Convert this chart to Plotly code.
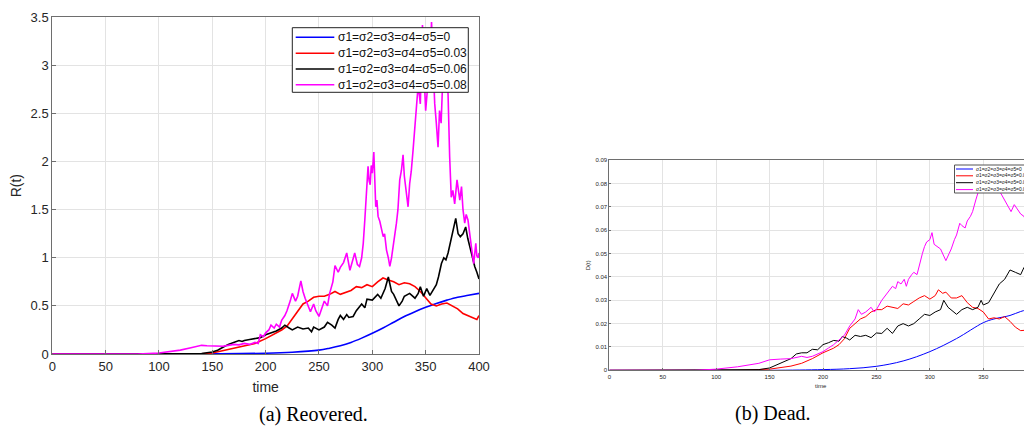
import plotly.graph_objects as go

# ---------------- (a) Recovered R(t) ----------------
a_blue_t = [0, 100, 150, 200, 225, 250, 260, 270, 280, 290, 300, 310, 320, 330, 340, 350, 360, 370, 380, 390, 400]
a_blue_v = [0, 0, 0.002, 0.008, 0.018, 0.04, 0.06, 0.085, 0.12, 0.165, 0.215, 0.27, 0.33, 0.39, 0.44, 0.485, 0.525, 0.56, 0.59, 0.61, 0.63]

a_red_t = [0, 100, 140, 150, 160, 170, 180, 190, 200, 205, 210, 215, 220, 225, 230, 235, 240, 245, 250, 255, 260, 265, 270, 275,
           280, 285, 290, 295, 300, 305, 310, 315, 320, 325, 330, 335, 340, 345, 350, 355, 360, 365, 370, 375, 380, 385, 390, 395, 398, 400]
a_red_v = [0, 0, 0.003, 0.01, 0.035, 0.065, 0.085, 0.11, 0.16, 0.19, 0.22, 0.25, 0.29, 0.37, 0.45, 0.52, 0.55, 0.59, 0.6, 0.6, 0.62, 0.65, 0.62, 0.64,
           0.66, 0.7, 0.69, 0.72, 0.7, 0.75, 0.79, 0.77, 0.75, 0.72, 0.74, 0.73, 0.7, 0.65, 0.58, 0.52, 0.5, 0.52, 0.53, 0.5, 0.47, 0.42, 0.4, 0.38, 0.36, 0.4]

a_black_t = [0, 130, 140, 150, 155, 160, 165, 170, 175, 178, 180, 185, 190, 195, 200, 205, 210, 215, 218, 222, 225, 230, 235, 240, 243, 245,
             250, 255, 258, 262, 265, 268, 270, 273, 276, 278, 282, 285, 290, 293, 295, 300, 303, 305, 308, 312, 315, 318, 320, 323, 325, 328,
             330, 335, 338, 340, 343, 345, 348, 351, 354, 357, 360, 362, 364.8, 367, 369, 371, 373, 375.7, 378.2, 380.4, 382.5, 385, 387.5,
             389.5, 391.3, 393.5, 396, 398, 400]
a_black_v = [0, 0, 0.005, 0.02, 0.04, 0.07, 0.1, 0.12, 0.14, 0.13, 0.14, 0.15, 0.16, 0.17, 0.2, 0.22, 0.24, 0.27, 0.3, 0.27, 0.25, 0.28, 0.26, 0.27, 0.23, 0.28,
             0.25, 0.28, 0.33, 0.3, 0.27, 0.36, 0.4, 0.36, 0.41, 0.38, 0.39, 0.45, 0.52, 0.48, 0.57, 0.56, 0.6, 0.62, 0.58, 0.68, 0.8, 0.65, 0.62, 0.55, 0.5, 0.55,
             0.6, 0.63, 0.6, 0.58, 0.63, 0.7, 0.6, 0.68, 0.61, 0.66, 0.72, 0.8, 0.94, 1.0, 0.98, 1.05, 1.15, 1.25, 1.41, 1.25, 1.22, 1.25, 1.32,
             1.2, 1.11, 1.0, 0.91, 0.85, 0.78]

a_mag_t = [0, 80, 100, 110, 120, 130, 135, 140, 145, 150, 155, 160, 165, 170, 175, 180, 185, 190, 193, 195, 198, 200, 203, 205, 208, 210,
           213, 215, 218, 220, 223, 225, 228, 230, 233, 235, 237, 240, 242, 245, 247, 250, 252, 255, 258, 260, 263, 265, 268, 270, 273, 276,
           279, 281, 283.5, 286, 288, 290, 291.5, 293, 294.5, 296, 297, 298, 299, 300, 301.4, 302.2, 303.2, 304.3, 305.4, 307, 308.6, 310.2,
           311.5, 313.3, 315, 316.4, 318, 319.5, 321, 322.6, 324, 325.7, 327.3, 328.8, 330, 331.4, 333.5, 335, 336.5, 338.2, 340, 341.4, 343,
           345, 347, 348.5, 350, 352, 354, 355.5, 357, 358.5, 360, 361.6, 363, 364.5, 366, 368, 370, 371, 372.5, 374, 375.5, 377.2, 379.4,
           381, 382, 383.6, 385, 386.6, 388, 389.7, 391, 392.9, 395, 397, 398, 399.3, 400]
a_mag_v = [0, 0, 0.01, 0.025, 0.04, 0.065, 0.075, 0.09, 0.085, 0.085, 0.08, 0.08, 0.09, 0.1, 0.095, 0.11, 0.1, 0.12, 0.11, 0.2, 0.18, 0.22, 0.25, 0.3, 0.27, 0.31,
           0.28, 0.35, 0.4, 0.45, 0.55, 0.63, 0.55, 0.6, 0.76, 0.65, 0.58, 0.5, 0.44, 0.52, 0.45, 0.39, 0.45, 0.55, 0.5, 0.63, 0.75, 0.92, 0.85, 0.9, 0.95, 1.05,
           0.87, 0.95, 1.05, 0.93, 0.91, 1.0, 1.15, 1.4, 1.74, 1.95, 1.8, 1.76, 1.96, 1.88, 2.1, 1.85, 1.53, 1.6, 1.43, 1.38, 1.29, 1.22,
           1.25, 1.08, 1.0, 0.91, 1.0, 1.12, 1.2, 1.36, 1.5, 1.81, 1.91, 2.07, 1.85, 1.7, 1.53, 1.77, 1.9, 2.12, 2.35, 2.57, 2.8,
           2.6, 3.42, 2.9, 2.53, 2.8, 3.0, 3.45, 2.9, 2.6, 2.4, 2.15, 2.53, 2.4, 2.85, 2.75, 2.95, 2.7, 2.05, 1.63, 1.7, 1.56, 1.81,
           1.7, 1.6, 1.74, 1.5, 1.36, 1.45, 1.39, 1.25, 1.11, 0.94, 1.15, 1.02, 1.0, 1.05]

# ---------------- (b) Dead D(t) ----------------
b_blue_t = [0, 150, 200, 225, 250, 275, 300, 325, 350, 360, 375, 385, 400]
b_blue_v = [0, 0, 0.0003, 0.0007, 0.0017, 0.004, 0.008, 0.0136, 0.0204, 0.022, 0.0235, 0.0252, 0.027]

b_red_t = [0, 120, 150, 170, 180, 190, 200, 205, 210, 215, 220, 225, 230, 235, 240, 245, 250, 255, 260, 265, 270, 275, 280, 285, 290, 295,
           300, 305, 308, 312, 315, 320, 325, 330, 333, 335, 340, 345, 350, 355, 360, 365, 370, 375, 380, 385, 390, 395, 400]
b_red_v = [0, 0, 0.0005, 0.0018, 0.003, 0.005, 0.0075, 0.0085, 0.0095, 0.011, 0.0135, 0.018, 0.02, 0.022, 0.023, 0.025, 0.026, 0.026, 0.0275, 0.027,
           0.0265, 0.0285, 0.028, 0.0295, 0.031, 0.032, 0.0305, 0.032, 0.0345, 0.033, 0.0335, 0.031, 0.031, 0.032, 0.03, 0.029, 0.027, 0.0265, 0.025,
           0.022, 0.0225, 0.022, 0.023, 0.021, 0.0185, 0.017, 0.0172, 0.0168, 0.017]

b_black_t = [0, 130, 140, 150, 160, 170, 175, 180, 185, 190, 195, 200, 205, 210, 215, 218, 222, 225, 230, 235, 240, 245, 250, 255, 260, 265,
             270, 275, 280, 285, 290, 295, 300, 305, 310, 313, 317, 320, 325, 330, 335, 340, 345, 348, 350, 355, 360, 365, 370, 375, 380, 385,
             388, 391, 395, 400]
b_black_v = [0, 0, 0.0003, 0.001, 0.003, 0.005, 0.007, 0.0075, 0.0075, 0.009, 0.0088, 0.011, 0.0118, 0.0128, 0.0125, 0.0145, 0.0138, 0.013, 0.015,
             0.0145, 0.015, 0.014, 0.016, 0.0158, 0.018, 0.0158, 0.019, 0.02, 0.019, 0.02, 0.022, 0.024, 0.0235, 0.025, 0.026, 0.03, 0.027, 0.026,
             0.024, 0.026, 0.027, 0.026, 0.027, 0.03, 0.028, 0.029, 0.033, 0.037, 0.039, 0.043, 0.042, 0.041, 0.044, 0.041, 0.038, 0.037]

b_mag_t = [0, 80, 100, 120, 140, 150, 160, 170, 180, 185, 190, 195, 200, 205, 210, 215, 220, 225, 230, 233, 236, 240, 245, 248, 250, 255,
           260, 265, 268, 270, 273, 276, 278, 280, 283, 285, 288, 290, 293, 295, 297, 300, 302, 304, 307, 310, 313, 315, 318, 320, 323, 325,
           328, 330, 333, 335, 338, 340, 343, 345, 348, 352, 356, 360, 365, 370, 373, 376, 379, 382, 385, 388, 391, 393, 395, 400]
b_mag_v = [0, 0, 0.0005, 0.0015, 0.003, 0.0045, 0.0048, 0.005, 0.006, 0.0055, 0.006, 0.007, 0.008, 0.0095, 0.011, 0.013, 0.015, 0.019, 0.022,
           0.026, 0.024, 0.025, 0.027, 0.025, 0.026, 0.03, 0.033, 0.036, 0.035, 0.038, 0.037, 0.039, 0.036, 0.039, 0.041, 0.042, 0.041, 0.045,
           0.05, 0.053, 0.055, 0.056, 0.059, 0.054, 0.053, 0.052, 0.049, 0.047, 0.05, 0.052, 0.056, 0.058, 0.063, 0.062, 0.061, 0.064, 0.066,
           0.068, 0.073, 0.076, 0.078, 0.08, 0.077, 0.078, 0.077, 0.073, 0.07, 0.068, 0.071, 0.069, 0.067, 0.066, 0.063, 0.059, 0.062, 0.063]

labels = ["σ1=σ2=σ3=σ4=σ5=0", "σ1=σ2=σ3=σ4=σ5=0.03", "σ1=σ2=σ3=σ4=σ5=0.06", "σ1=σ2=σ3=σ4=σ5=0.08"]
colors = ["#0000ff", "#ff0000", "#000000", "#ff00ff"]

a_x_ticks = [0, 50, 100, 150, 200, 250, 300, 350, 400]
a_y_ticks = [0, 0.5, 1, 1.5, 2, 2.5, 3, 3.5]
a_y_text = ["0", "0.5", "1", "1.5", "2", "2.5", "3", "3.5"]
b_x_ticks = [0, 50, 100, 150, 200, 250, 300, 350]
b_y_ticks = [0, 0.01, 0.02, 0.03, 0.04, 0.05, 0.06, 0.07, 0.08, 0.09]
b_y_text = ["0", "0.01", "0.02", "0.03", "0.04", "0.05", "0.06", "0.07", "0.08", "0.09"]

W, H = 1032, 441
OFF = 8  # page body margin: figure is drawn 8px right/down in the window
FONT = "Liberation Sans, Arial, sans-serif"


def px(x):
    return (x - OFF) / W


def py(y):
    return 1 - (y - OFF) / H


fig = go.Figure()
a_series = [(a_blue_t, a_blue_v), (a_red_t, a_red_v), (a_black_t, a_black_v), (a_mag_t, a_mag_v)]
b_series = [(b_blue_t, b_blue_v), (b_red_t, b_red_v), (b_black_t, b_black_v), (b_mag_t, b_mag_v)]
for i, (t, v) in enumerate(a_series):
    fig.add_trace(go.Scatter(x=t, y=v, mode="lines", name=labels[i], showlegend=False,
                             line=dict(color=colors[i], width=1.6, shape="spline" if i == 0 else "linear"),
                             xaxis="x", yaxis="y"))
for i, (t, v) in enumerate(b_series):
    fig.add_trace(go.Scatter(x=t, y=v, mode="lines", name=labels[i], showlegend=False,
                             line=dict(color=colors[i], width=1.0, shape="spline" if i == 0 else "linear"),
                             xaxis="x2", yaxis="y2"))

grid = "#e3e3e3"
axc = "#6e6e6e"
common = dict(showgrid=True, gridcolor=grid, gridwidth=1, showline=True, linecolor=axc, linewidth=1,
              ticks="inside", tickcolor=axc, zeroline=False, automargin=False)

legend_specs = [
    dict(box=(292.3, 27.7, 468.3, 92.3), lx=(295.7, 334.3), tx=336.5, rows=(37.3, 53.3, 69.0, 84.7), fs=12, lw=1.6,
         border="#222222"),
    dict(box=(954.5, 165.0, 1045.0, 193.0), lx=(956.0, 973.0), tx=974.5, rows=(169.0, 175.8, 182.7, 189.6), fs=4.9, lw=1.0,
         border="#555555"),
]

shapes = []
annotations = []
for spec in legend_specs:
    x0, y0, x1, y1 = spec["box"]
    shapes.append(dict(type="rect", xref="paper", yref="paper", x0=px(x0), x1=px(x1), y0=py(y1), y1=py(y0),
                       fillcolor="white", line=dict(color=spec["border"], width=1), layer="above"))
    for i, ry in enumerate(spec["rows"]):
        shapes.append(dict(type="line", xref="paper", yref="paper", x0=px(spec["lx"][0]), x1=px(spec["lx"][1]),
                           y0=py(ry), y1=py(ry), line=dict(color=colors[i], width=spec["lw"]), layer="above"))
        annotations.append(dict(text=labels[i], x=px(spec["tx"]), y=py(ry), xref="paper", yref="paper",
                                xanchor="left", yanchor="middle", showarrow=False, borderpad=0,
                                font=dict(size=spec["fs"], family=FONT, color="#111111")))

annotations += [
    dict(text="(a) Reovered.", x=px(257), y=py(428), xref="paper", yref="paper", showarrow=False,
         font=dict(family="Liberation Serif, Times New Roman, serif", size=20, color="#000000")),
    dict(text="(b) Dead.", x=px(813), y=py(427), xref="paper", yref="paper", showarrow=False,
         font=dict(family="Liberation Serif, Times New Roman, serif", size=20, color="#000000")),
]

fig.update_layout(
    width=W, height=H, margin=dict(l=0, r=0, t=0, b=0, autoexpand=False),
    paper_bgcolor="white", plot_bgcolor="white", showlegend=False,
    font=dict(family=FONT, color="#262626"),
    xaxis=dict(domain=[px(52.3), px(479)], range=[0, 400], tickvals=a_x_ticks, ticklen=4, mirror=True,
               tickfont=dict(size=13), title=dict(text="time", font=dict(size=14), standoff=9), anchor="y", **common),
    yaxis=dict(domain=[py(354), py(17.3)], range=[0, 3.5], tickvals=a_y_ticks, ticktext=a_y_text, ticklen=4,
               mirror=True, tickfont=dict(size=13), title=dict(text="R(t)", font=dict(size=14), standoff=10), anchor="x", **common),
    xaxis2=dict(domain=[px(609.3), px(1032)], range=[0, 395.6], tickvals=b_x_ticks, ticklen=2, mirror=True,
                tickfont=dict(size=6), title=dict(text="time", font=dict(size=6), standoff=5), anchor="y2", **common),
    yaxis2=dict(domain=[py(370.3), py(160.3)], range=[0, 0.09], tickvals=b_y_ticks, ticktext=b_y_text, ticklen=2,
                mirror=False, tickfont=dict(size=6), title=dict(text="D(t)", font=dict(size=6), standoff=4), anchor="x2", **common),
    shapes=shapes,
    annotations=annotations,
)

fig.write_html("out.html")
